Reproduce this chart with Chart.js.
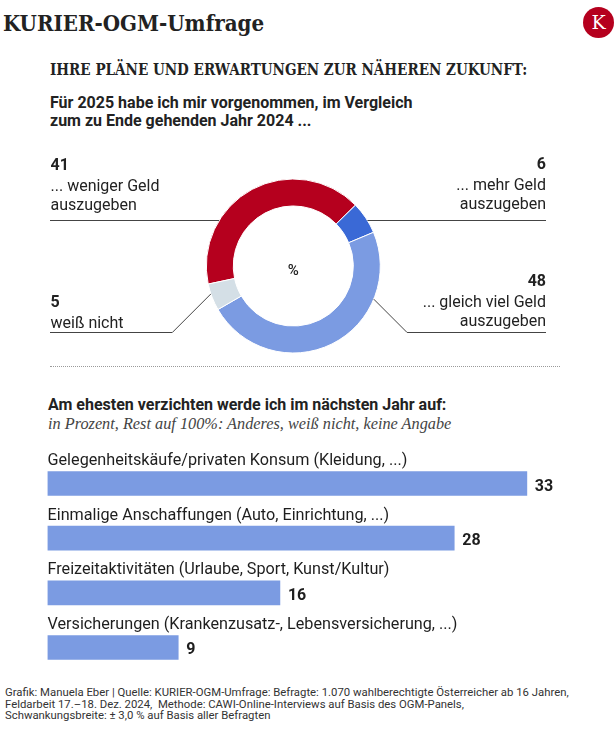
<!DOCTYPE html>
<html lang="de">
<head>
<meta charset="utf-8">
<title>KURIER-OGM-Umfrage</title>
<script src="https://cdn.jsdelivr.net/npm/chart.js@4.4.1/dist/chart.umd.min.js"></script>
<style>
  html, body { margin: 0; padding: 0; background: #fff; }
  body { width: 616px; height: 731px; position: relative; overflow: hidden; font-family: Roboto, "Noto Sans", sans-serif; color: #1e1e1e; }
  .t { position: absolute; white-space: nowrap; line-height: 1; }
  .slab { font-family: "DejaVu Serif", serif; font-weight: bold; transform-origin: 0 0; }
  .title { left: 3px; top: 12.5px; font-size: 21.5px; transform: scaleX(0.925); color: #222; }
  .head { left: 50px; top: 62px; font-size: 16.5px; transform: scaleX(0.82); color: #222; }
  .sub { left: 50px; font-size: 16px; font-weight: bold; color: #222; }
  .note { left: 48px; top: 416px; font-family: "Liberation Serif", serif; font-style: italic; font-size: 16.3px; color: #444; }
  .foot { left: 5px; font-size: 11.7px; color: #333; transform-origin: 0 0; transform: scaleX(0.97); }
  .logo { position: absolute; left: 583px; top: 7px; width: 31px; height: 31px; border-radius: 50%; background: #b5001e; color: #fff;
          font-family: "DejaVu Serif", serif; font-size: 19px; line-height: 31px; text-align: center; }
  .sep { position: absolute; left: 50px; top: 366px; width: 510px; border-top: 1px dotted #9a9a9a; }
  canvas { position: absolute; left: 0; }
</style>
</head>
<body>
<div class="t slab title">KURIER-OGM-Umfrage</div>
<div class="logo">K</div>
<div class="t slab head">IHRE PLÄNE UND ERWARTUNGEN ZUR NÄHEREN ZUKUNFT:</div>
<div class="t sub" style="top:94.8px">Für 2025 habe ich mir vorgenommen, im Vergleich</div>
<div class="t sub" style="top:113.2px">zum zu Ende gehenden Jahr 2024 ...</div>

<canvas id="donut" width="616" height="232" style="top:140px"></canvas>
<div class="sep"></div>

<div class="t sub" style="top:397.2px; left:48px">Am ehesten verzichten werde ich im nächsten Jahr auf:</div>
<div class="t note">in Prozent, Rest auf 100%: Anderes, weiß nicht, keine Angabe</div>

<canvas id="bars" width="616" height="240" style="top:440px"></canvas>

<div class="t foot" style="top:687.2px">Grafik: Manuela Eber | Quelle: KURIER-OGM-Umfrage: Befragte: 1.070 wahlberechtigte Österreicher ab 16 Jahren,</div>
<div class="t foot" style="top:698.5px">Feldarbeit 17.–18. Dez. 2024,&nbsp; Methode: CAWI-Online-Interviews auf Basis des OGM-Panels,</div>
<div class="t foot" style="top:709.8px">Schwankungsbreite: ± 3,0 % auf Basis aller Befragten</div>

<script>
// Donut: Vorsätze für 2025
const planLabels = ["... weniger Geld\nauszugeben", "... mehr Geld\nauszugeben", "... gleich viel Geld\nauszugeben", "weiß nicht"];
const planValues = [41, 6, 48, 5];
const planColors = ["#b5001e", "#3a69d6", "#7b9be2", "#d4dfe6"];

// Bars: worauf verzichtet wird
const cutLabels = [
  "Gelegenheitskäufe/privaten Konsum (Kleidung, ...)",
  "Einmalige Anschaffungen (Auto, Einrichtung, ...)",
  "Freizeitaktivitäten (Urlaube, Sport, Kunst/Kultur)",
  "Versicherungen (Krankenzusatz-, Lebensversicherung, ...)"
];
const cutValues = [33, 28, 16, 9];

// where each callout sits (canvas coords of the donut canvas)
const callouts = [
  { side: "left", numY: 30, lineY: 80.5 },
  { side: "right", numY: 29, lineY: 80.5 },
  { side: "right", numY: 146, lineY: 192.5, angle: 112.4 },
  { side: "left", numY: 166.7, lineY: 192.5, angle: 251.3 }
];
const TEXT_L = 50.5, TEXT_R = 546;

const donutCallouts = {
  id: "donutCallouts",
  afterDraw(chart) {
    const ctx = chart.ctx;
    const arcs = chart.getDatasetMeta(0).data;
    const cx = arcs[0].x, cy = arcs[0].y, R = arcs[0].outerRadius;
    ctx.save();
    ctx.fillStyle = "#222";
    ctx.font = "500 15px Roboto";
    ctx.textAlign = "center";
    ctx.textBaseline = "alphabetic";
    ctx.fillText("%", cx, cy + 8.5);

    callouts.forEach((c, i) => {
      const left = c.side === "left";
      const tx = left ? TEXT_L : TEXT_R;
      ctx.textAlign = left ? "left" : "right";
      ctx.font = "bold 16px Roboto";
      ctx.fillText(String(planValues[i]), tx, c.numY);
      ctx.font = "16px Roboto";
      planLabels[i].split("\n").forEach((ln, k) => {
        ctx.fillText(ln, tx, c.numY + 21 + k * 18.5);
      });

      ctx.strokeStyle = "#444";
      ctx.lineWidth = 1;
      ctx.beginPath();
      if (c.angle === undefined) {
        const dy = c.lineY - cy;
        const dx = Math.sqrt(R * R - dy * dy);
        ctx.moveTo(left ? 50 : cx + dx, c.lineY);
        ctx.lineTo(left ? cx - dx : TEXT_R, c.lineY);
      } else {
        const a = c.angle * Math.PI / 180;
        const px = cx + R * Math.sin(a), py = cy - R * Math.cos(a);
        const ex = left ? px - (c.lineY - py) : px + (c.lineY - py);
        ctx.moveTo(px, py);
        ctx.lineTo(ex, c.lineY);
        ctx.lineTo(left ? 50 : TEXT_R, c.lineY);
      }
      ctx.stroke();
    });
    ctx.restore();
  }
};

new Chart(document.getElementById("donut"), {
  type: "doughnut",
  data: {
    labels: planLabels,
    datasets: [{ data: planValues, backgroundColor: planColors, borderColor: "#fff", borderWidth: 1 }]
  },
  options: {
    responsive: false,
    animation: false,
    devicePixelRatio: 1,
    rotation: -102,
    radius: 87,
    cutout: "69%",
    layout: { padding: { top: 20, right: 29.4, bottom: 0, left: 0 } },
    plugins: { legend: { display: false }, tooltip: { enabled: false } }
  },
  plugins: [donutCallouts]
});

const barLabels = {
  id: "barLabels",
  afterDatasetsDraw(chart) {
    const ctx = chart.ctx;
    const bars = chart.getDatasetMeta(0).data;
    ctx.save();
    ctx.fillStyle = "#1e1e1e";
    ctx.textBaseline = "alphabetic";
    bars.forEach((b, i) => {
      const top = b.y - b.height / 2;
      ctx.font = "16.2px Roboto";
      ctx.textAlign = "left";
      ctx.fillText(cutLabels[i], b.base, top - 6.5);
      ctx.font = "bold 16px Roboto";
      ctx.fillText(String(cutValues[i]), b.x + 8, b.y + 7);
    });
    ctx.restore();
  }
};

new Chart(document.getElementById("bars"), {
  type: "bar",
  data: {
    labels: cutLabels,
    datasets: [{ data: cutValues, backgroundColor: "#7b9be2", barThickness: 24 }]
  },
  options: {
    indexAxis: "y",
    responsive: false,
    animation: false,
    devicePixelRatio: 1,
    layout: { padding: { top: 16.2, right: 16.5, bottom: 5.2, left: 47.5 } },
    scales: {
      x: { min: 0, max: 38, display: false },
      y: { display: false }
    },
    plugins: { legend: { display: false }, tooltip: { enabled: false } }
  },
  plugins: [barLabels]
});
</script>
</body>
</html>
